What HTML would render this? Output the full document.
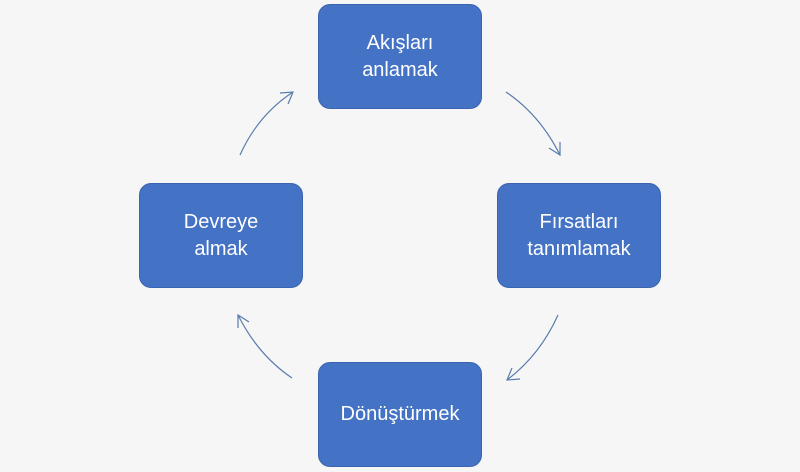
<!DOCTYPE html>
<html><head><style>
body{margin:0;width:800px;height:472px;background:#f6f6f6;position:relative;overflow:hidden;font-family:"Liberation Sans",sans-serif}
.b{position:absolute;width:164px;height:105px;background:#4472c4;border:1px solid #3a64b0;border-radius:12px;box-sizing:border-box;color:#fff;font-size:20px;display:flex;align-items:center;justify-content:center;text-align:center;line-height:27px}
</style></head><body>
<div class="b" style="left:318px;top:4px">Akışları<br>anlamak</div>
<div class="b" style="left:497px;top:183px">Fırsatları<br>tanımlamak</div>
<div class="b" style="left:318px;top:362px">Dönüştürmek</div>
<div class="b" style="left:139px;top:183px">Devreye<br>almak</div>
<svg width="800" height="472" style="position:absolute;left:0;top:0" fill="none" stroke="#5a7cad" stroke-width="1.2">
<path d="M506 92 Q540 115 560 155"/><path d="M549 148 L560 155 L560 142"/>
<path d="M558 315 Q540 355 507 380"/><path d="M520 379 L507 380 L512 368"/>
<path d="M292 378 Q258 355 238 315"/><path d="M249 322 L238 315 L238 328"/>
<path d="M240 155 Q258 115 293 92"/><path d="M280 93 L293 92 L288 104"/>
</svg>
</body></html>
